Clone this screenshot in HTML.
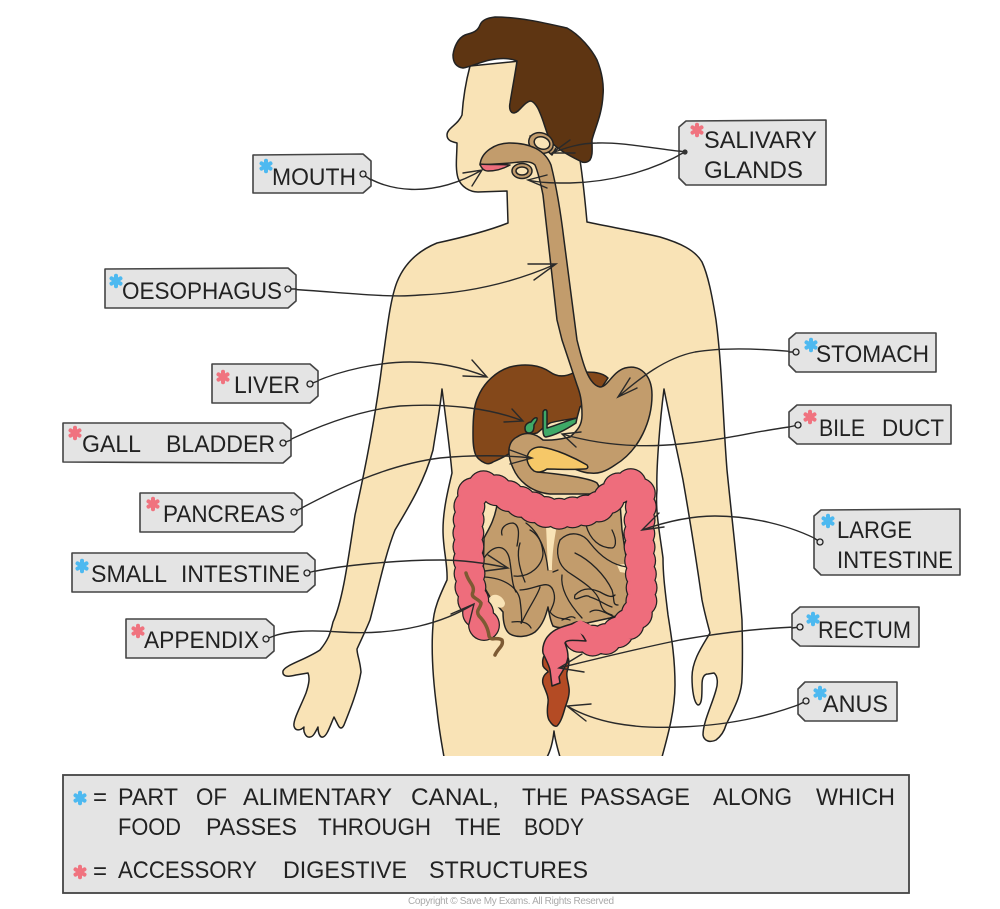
<!DOCTYPE html>
<html><head><meta charset="utf-8"><style>
html,body{margin:0;padding:0;background:#fff}
svg{display:block}
.t{font-family:"Liberation Sans",sans-serif;font-size:24px;fill:#222}
.o{stroke:#222;stroke-width:1.5;stroke-linejoin:round;stroke-linecap:round}
.c{stroke:#2a2a2a;stroke-width:1.4;fill:none;stroke-linecap:round}
.g{fill:#e4e4e4;stroke:#444;stroke-width:1.6;stroke-linejoin:round}
.h{fill:#e4e4e4;stroke:#222;stroke-width:1.3}
.i{stroke:#222;stroke-width:1.3;fill:none;stroke-linecap:round}
</style></head><body>
<svg width="1000" height="909" viewBox="0 0 1000 909" xmlns="http://www.w3.org/2000/svg">
<defs>
<g id="a"><path d="M0,-5.2V5.2M-4.5,-2.6L4.5,2.6M-4.5,2.6L4.5,-2.6" stroke-width="4" stroke-linecap="round" fill="none"/></g>
</defs>

<!-- body -->
<path d="M470,66 C465,85 463,100 462,115 C458,125 447,128 447,135 C447,141 453,142 457,143 C457,155 455,168 458,178 C461,187 470,192 478,192 L507,191 L508,223 C485,232 460,238 437,243 C420,250 405,262 397,282 C390,300 387,330 382,365 C375,420 365,470 355,515 C348,560 343,600 333,622 C330,635 328,640 320,650 C305,660 285,665 283,671 C282,677 288,677 296,675 L308,673 C310,678 309,684 306,693 C300,708 293,720 294,726 C295,731 300,731 304,727 C303,732 306,738 310,737 C313,737 315,733 318,727 C318,733 320,738 323,737 C327,736 330,726 334,717 L338,725 C340,729 342,729 344,725 C350,710 358,690 361,672 C360,660 357,655 357,649 C361,640 366,630 370,620 C378,590 385,555 395,530 C410,505 425,480 433,450 C436,430 440,410 442,389 C446,420 450,450 452,473 C448,490 443,510 443,530 C443,550 448,565 447,580 C440,595 433,610 433,625 C431,650 433,680 437,710 C439,730 442,745 444,757 L547,757 C551,750 553,740 554,731 C555,740 558,750 560,757 L662,757 C668,735 675,710 675,685 C675,660 672,640 668,615 C665,590 663,575 663,558 C660,535 655,510 657,490 C656,470 660,420 664,389 C670,420 677,450 683,480 C690,520 697,565 702,600 C705,615 708,625 710,633 C703,645 692,660 692,677 C692,690 694,703 698,705 C702,705 702,695 702,685 C702,678 704,674 708,674 L714,673 C718,676 718,684 716,690 C712,705 703,722 703,735 C704,741 710,743 716,740 C720,737 724,732 726,725 C733,710 742,695 742,678 C743,650 742,625 742,620 C738,570 732,520 727,470 C723,420 722,365 716,320 C712,295 708,275 702,262 C695,250 680,243 660,237 C635,231 610,227 587,222 C585,200 583,180 580,160 L530,60 Z" fill="#f9e3b6" class="o"/>
<rect x="430" y="756" width="245" height="3" fill="#fff"/>

<!-- hair -->
<path d="M480,25 C482,20 487,18 495,17 C520,17 545,23 567,28 C580,35 592,50 597,60 C602,72 604,85 603,95 C602,115 595,128 592,140 C592,150 593,155 590,160 C587,163 583,163 580,161 C568,155 555,148 550,140 C546,132 544,122 540,113 C537,105 533,101 530,101 C523,103 520,112 514,113 C510,113 509,108 510,103 C512,90 515,75 517,61 C510,58 500,58 490,60 C480,62 470,67 463,68 C456,67 453,62 453,55 C454,47 458,38 465,35 C470,33 477,33 480,25 Z" fill="#5e3512" class="o"/>

<!-- liver -->
<path d="M473,433 C473,417 474,405 478,397 C484,382 497,371 510,367 C525,363 540,365 550,372 C557,377 565,377 573,373 L583,372 C592,372 602,372 608,378 L600,390 L580,407 L577,418 C565,420 556,421 550,423 C545,426 541,430 537,433 L517,437 L510,453 C503,458 497,460 493,462 C490,464 487,464 485,463 C480,461 476,457 475,453 C473,447 473,440 473,433Z" fill="#84481a" class="o"/>
<!-- gland rings -->
<path d="M530,136 L552,155 L556,148" fill="#c29c6c" class="o"/>
<ellipse cx="541" cy="143" rx="12.5" ry="10" fill="#c29c6c" class="o" transform="rotate(20 541 143)"/>
<ellipse cx="542" cy="143" rx="8" ry="6" fill="#f9e3b6" class="o" transform="rotate(20 542 143)"/>
<!-- small intestine -->
<path d="M497,505 L620,503 L622,530 L634,610 L610,618 L578,625 C570,628 560,629 553,626 C550,620 549,612 548,607 C546,615 543,625 535,632 C528,637 517,638 510,634 C504,630 503,620 503,612 L490,597 L483,585 L484,538 C488,530 494,522 497,505 Z" fill="#c29c6c" class="o"/>
<path d="M490,597 C495,592 503,596 505,603 C505,608 500,609 496,606 C492,604 490,600 490,597Z" fill="#f9e3b6" stroke="none"/>
<path d="M546,525 L557,525 C553,545 552,560 552,570 L548,570 Z" fill="#f9e3b6" stroke="none"/>
<path d="M617,565 L630,563 L632,574 L620,572Z" fill="#f9e3b6" stroke="none"/>
<g class="i">
<path d="M502,535 C500,528 506,523 513,523 C520,525 519,535 517,546"/>
<path d="M484,558 C495,542 508,545 510,562 C512,575 512,585 516,592"/>
<path d="M514,576 C530,578 543,565 543,553 C542,538 533,528 526,523"/>
<path d="M520,543 C516,555 520,570 525,582"/>
<path d="M530,530 C540,535 546,550 548,570"/>
<path d="M484,577 C505,578 518,588 520,600 C522,615 522,625 521,623"/>
<path d="M520,590 C535,590 548,578 553,590 C557,600 552,607 550,612 C556,620 565,618 570,620"/>
<path d="M522,622 C530,605 538,595 540,587"/>
<path d="M512,622 C520,621 528,622 531,628"/>
<path d="M558,570 L553,572"/>
<path d="M560,540 C570,530 583,533 590,543 C600,556 612,565 627,567"/>
<path d="M560,540 C555,552 558,565 568,572 C580,580 597,590 600,602 C602,610 605,613 612,615"/>
<path d="M575,553 C590,560 605,575 612,590 C615,600 612,605 618,605"/>
<path d="M586,525 C590,540 600,548 612,548 C615,548 618,542 612,530"/>
<path d="M562,575 C560,590 570,605 582,618"/>
<path d="M575,595 C585,585 595,590 600,592 C607,596 612,598 615,595"/>
<path d="M575,595 C572,605 585,592 590,597 C600,600 605,605 612,607"/>
<path d="M590,612 C597,607 605,613 615,617"/>
<path d="M562,620 C567,618 572,615 575,618"/>
</g>

<!-- digestive tube / stomach -->
<path d="M480,165 C481,152 495,143 510,143 C530,143 545,150 551,165 C556,185 561,215 564,240 L577,340 C582,360 588,385 600,387 C608,387 612,372 625,368 C640,364 652,375 652,395 C652,420 640,450 615,465 C605,472 598,474 590,473 C583,473 578,470 572,468 L535,466 L537,472 C560,474 590,478 597,483 C601,488 597,493 590,494 L550,494 C530,492 518,480 513,468 C507,455 507,442 517,437 C525,431 535,433 543,440 C555,441 565,438 570,437 C578,430 582,425 582,415 C582,400 580,393 577,385 L562,340 L557,320 L543,195 C540,180 538,172 535,165 C530,160 520,162 510,163 L480,165Z" fill="#c29c6c" class="o"/>
<!-- mouth -->
<path d="M480,164 C490,165 500,164 510,165 C503,169 495,171 488,171 C484,171 481,168 480,164Z" fill="#ee6d7c" class="o"/>
<ellipse cx="522" cy="171" rx="10" ry="7.5" fill="#c29c6c" class="o"/>
<ellipse cx="522" cy="171" rx="6" ry="4" fill="#f9e3b6" class="o"/>

<!-- green -->
<path d="M525,428 C525,424 529,422 531,422 C533,419 535,417 537,418 C538,420 535,423 534,425 C534,430 533,433 529,433 C526,433 525,431 525,428Z" fill="#3fa967" class="o"/>
<path d="M543,412 C544,409 547,409 547,412 L547,428 C555,426 568,420 577,418 L576,423 C567,429 556,435 546,437 C544,437 543,434 543,430Z" fill="#3fa967" class="o"/>
<!-- pancreas -->
<path d="M527,458 C528,450 534,447 541,447 C556,449 575,458 587,465 C589,468 587,469 584,469 C570,470 558,469 547,469 C543,472 538,473 534,471 C530,468 527,463 527,458Z" fill="#f6c868" class="o"/>

<!-- anus -->
<path d="M547,653 C543,655 542,661 543,666 C545,670 548,670 548,672 C543,675 542,680 543,684 C546,692 549,697 548,703 C547,710 547,716 549,720 C552,725 555,727 557,726 C561,722 563,715 565,708 C567,702 570,695 569,688 C568,680 566,677 567,672 C569,665 570,660 567,656 Z" fill="#b44b24" class="o"/>

<!-- large intestine -->
<g fill="none" stroke-linecap="round" stroke-linejoin="round">
<path d="M484,625 C476,610 470,595 470,580 C468,555 468,530 469,510 C470,495 475,487 482,486 C495,488 505,495 523,503 C540,510 550,516 565,513 C580,512 595,510 605,503 C612,495 620,483 630,484 C640,486 643,498 640,512 C638,540 641,570 642,597 C640,615 630,625 615,634 C605,642 590,643 578,636" stroke="#222" stroke-width="32" stroke-dasharray="0 13.5"/>
<path d="M484,625 C476,610 470,595 470,580 C468,555 468,530 469,510 C470,495 475,487 482,486 C495,488 505,495 523,503 C540,510 550,516 565,513 C580,512 595,510 605,503 C612,495 620,483 630,484 C640,486 643,498 640,512 C638,540 641,570 642,597 C640,615 630,625 615,634 C605,642 590,643 578,636" stroke="#ee6d7c" stroke-width="29.5" stroke-dasharray="0 13.5"/>
<path d="M484,625 C476,610 470,595 470,580 C468,555 468,530 469,510 C470,495 475,487 482,486 C495,488 505,495 523,503 C540,510 550,516 565,513 C580,512 595,510 605,503 C612,495 620,483 630,484 C640,486 643,498 640,512 C638,540 641,570 642,597 C640,615 630,625 615,634 C605,642 590,643 578,636" stroke="#ee6d7c" stroke-width="22"/>
</g>
<path d="M575,623 C565,626 555,628 549,635 C544,640 542,648 543,653 C546,660 549,665 550,670 L552,686 L560,683 L559,677 C562,672 567,665 568,657 C568,650 566,646 565,643 C566,640 570,640 586,641 Z" fill="#ee6d7c" class="o"/>
<path d="M570,626 L590,640 L600,630 L580,620Z" fill="#ee6d7c"/>
<!-- appendix -->
<path d="M466,573 C468,582 475,585 473,592 C470,598 478,598 481,603 C481,608 475,610 479,616 C484,621 488,627 489,636 C491,642 497,636 502,640 C504,646 498,648 495,655" fill="none" stroke="#7d5a33" stroke-width="3.5" stroke-linecap="round"/>

<!-- connectors -->
<g class="c">
<path d="M364,175 C385,190 430,200 482,170 M463,173 L482,170 L472,186"/>
<path d="M685,152 C650,148 620,142 597,143 C580,143 565,148 552,153 M570,140 L552,153 L575,153"/>
<path d="M685,152 C650,172 610,182 570,183 C555,183 540,183 528,180 M547,175 L528,180 L547,188"/>
<path d="M288,289 C350,293 390,298 420,295 C470,293 515,282 556,264 M528,264 L556,264 L534,280"/>
<path d="M310,384 C340,370 380,362 410,362 C440,362 465,368 487,377 M472,360 L487,377 L463,376"/>
<path d="M283,443 C320,425 360,410 400,406 C445,403 490,408 523,421 M512,409 L523,421 L504,422"/>
<path d="M294,512 C335,490 385,465 440,458 C470,455 505,455 532,458 M510,450 L532,458 L510,464"/>
<path d="M307,573 C340,565 400,560 440,560 C465,560 490,564 508,568 M488,555 L508,568 L485,571"/>
<path d="M266,639 C285,630 310,630 340,632 C400,636 445,622 474,604 M451,614 L474,604 L469,624"/>
<path d="M797,352 C765,349 725,347 695,352 C665,358 640,378 618,397 M630,378 L618,397 L637,388"/>
<path d="M797,426 C760,430 725,440 680,444 C640,448 600,445 562,434 M581,432 L562,434 L576,447"/>
<path d="M820,541 C790,525 750,516 715,516 C690,516 665,522 642,530 M659,513 L642,530 L664,527"/>
<path d="M799,627 C760,628 720,633 680,640 C640,648 600,658 559,668 M582,654 L559,668 L584,672"/>
<path d="M806,702 C780,712 740,725 680,727 C630,729 595,722 567,706 M591,704 L567,706 L586,721"/>
</g>

<!-- tags -->
<path class="g" d="M253,155 L363,154 L371,161 L371,186 L363,193 L253,193Z"/>
<path class="g" d="M686,121 L826,120 L826,185 L686,185 L679,178 L679,127Z"/>
<path class="g" d="M105,269 L288,268 L296,275 L296,301 L288,308 L105,308Z"/>
<path class="g" d="M212,364 L310,364 L318,371 L318,396 L310,403 L212,403Z"/>
<path class="g" d="M63,423 L283,423 L291,430 L291,456 L283,463 L63,462Z"/>
<path class="g" d="M140,493 L294,493 L302,500 L302,525 L294,532 L140,532Z"/>
<path class="g" d="M72,553 L307,553 L315,560 L315,585 L307,592 L72,592Z"/>
<path class="g" d="M126,619 L266,619 L274,626 L274,651 L266,658 L126,658Z"/>
<path class="g" d="M796,333 L936,333 L936,372 L796,372 L789,365 L789,339Z"/>
<path class="g" d="M797,405 L951,405 L951,444 L797,444 L789,437 L789,412Z"/>
<path class="g" d="M821,510 L960,509 L960,575 L821,575 L814,568 L814,516Z"/>
<path class="g" d="M800,607 L919,607 L919,647 L800,646 L792,639 L792,614Z"/>
<path class="g" d="M805,682 L897,682 L897,721 L805,721 L798,714 L798,689Z"/>
<rect x="63" y="775" width="846" height="118" fill="#e4e4e4" stroke="#444" stroke-width="1.8"/>

<!-- connector tails over tags -->
<g class="c">
<path d="M364,175 L371,180"/><path d="M679,151 L685,152 M679,155 L685,152"/>
<path d="M288,289 L296,289"/><path d="M310,384 L318,381"/><path d="M283,443 L291,440"/>
<path d="M294,512 L302,508"/><path d="M307,573 L315,571"/><path d="M266,639 L274,636"/>
<path d="M789,352 L796,352"/><path d="M789,427 L798,425"/><path d="M814,538 L820,542"/>
<path d="M792,628 L800,627"/><path d="M798,705 L806,701"/>
</g>
<!-- holes -->
<circle class="h" cx="363" cy="174" r="3"/><circle cx="685" cy="152" r="2.6" fill="#333"/>
<circle class="h" cx="288" cy="289" r="3"/><circle class="h" cx="310" cy="384" r="3"/>
<circle class="h" cx="283" cy="443" r="3"/><circle class="h" cx="294" cy="512" r="3"/>
<circle class="h" cx="307" cy="573" r="3"/><circle class="h" cx="266" cy="639" r="3"/>
<circle class="h" cx="796" cy="352" r="3"/><circle class="h" cx="798" cy="425" r="3"/>
<circle class="h" cx="820" cy="542" r="3"/><circle class="h" cx="800" cy="627" r="3"/>
<circle class="h" cx="806" cy="701" r="3"/>

<!-- asterisks -->
<g fill="none" stroke="#4db9f0">
<use href="#a" x="266" y="166"/><use href="#a" x="116" y="281"/><use href="#a" x="82" y="566"/>
<use href="#a" x="811" y="345"/><use href="#a" x="828" y="521"/><use href="#a" x="813" y="619"/>
<use href="#a" x="820" y="693"/><use href="#a" x="80" y="798"/>
</g>
<g fill="none" stroke="#f0737f">
<use href="#a" x="697" y="130"/><use href="#a" x="223" y="377"/><use href="#a" x="75" y="433"/>
<use href="#a" x="153" y="504"/><use href="#a" x="138" y="631"/><use href="#a" x="810" y="417"/>
<use href="#a" x="80" y="872"/>
</g>

<!-- label text -->
<g class="t">
<text x="272" y="185" textLength="84" lengthAdjust="spacingAndGlyphs">MOUTH</text>
<text x="704" y="148" textLength="113" lengthAdjust="spacingAndGlyphs">SALIVARY</text>
<text x="704" y="178" textLength="99" lengthAdjust="spacingAndGlyphs">GLANDS</text>
<text x="122" y="299" textLength="160" lengthAdjust="spacingAndGlyphs">OESOPHAGUS</text>
<text x="234" y="393" textLength="66" lengthAdjust="spacingAndGlyphs">LIVER</text>
<text x="82" y="452" textLength="59" lengthAdjust="spacingAndGlyphs">GALL</text><text x="166" y="452" textLength="109" lengthAdjust="spacingAndGlyphs">BLADDER</text>
<text x="163" y="522" textLength="122" lengthAdjust="spacingAndGlyphs">PANCREAS</text>
<text x="91" y="582" textLength="76" lengthAdjust="spacingAndGlyphs">SMALL</text><text x="181" y="582" textLength="119" lengthAdjust="spacingAndGlyphs">INTESTINE</text>
<text x="144" y="648" textLength="115" lengthAdjust="spacingAndGlyphs">APPENDIX</text>
<text x="816" y="362" textLength="113" lengthAdjust="spacingAndGlyphs">STOMACH</text>
<text x="819" y="436" textLength="46" lengthAdjust="spacingAndGlyphs">BILE</text><text x="882" y="436" textLength="62" lengthAdjust="spacingAndGlyphs">DUCT</text>
<text x="837" y="538" textLength="75" lengthAdjust="spacingAndGlyphs">LARGE</text>
<text x="837" y="568" textLength="116" lengthAdjust="spacingAndGlyphs">INTESTINE</text>
<text x="818" y="638" textLength="93" lengthAdjust="spacingAndGlyphs">RECTUM</text>
<text x="823" y="712" textLength="65" lengthAdjust="spacingAndGlyphs">ANUS</text>
</g>

<!-- legend text -->
<g class="t">
<text x="93" y="805" textLength="15">=</text>
<text x="93" y="879" textLength="15">=</text>
<text x="118" y="805" textLength="60" lengthAdjust="spacingAndGlyphs">PART</text>
<text x="196" y="805" textLength="31" lengthAdjust="spacingAndGlyphs">OF</text>
<text x="243" y="805" textLength="149" lengthAdjust="spacingAndGlyphs">ALIMENTARY</text>
<text x="411" y="805" textLength="88" lengthAdjust="spacingAndGlyphs">CANAL,</text>
<text x="522" y="805" textLength="46" lengthAdjust="spacingAndGlyphs">THE</text>
<text x="580" y="805" textLength="110" lengthAdjust="spacingAndGlyphs">PASSAGE</text>
<text x="713" y="805" textLength="79" lengthAdjust="spacingAndGlyphs">ALONG</text>
<text x="816" y="805" textLength="79" lengthAdjust="spacingAndGlyphs">WHICH</text>
<text x="118" y="835" textLength="63" lengthAdjust="spacingAndGlyphs">FOOD</text>
<text x="206" y="835" textLength="91" lengthAdjust="spacingAndGlyphs">PASSES</text>
<text x="318" y="835" textLength="113" lengthAdjust="spacingAndGlyphs">THROUGH</text>
<text x="455" y="835" textLength="46" lengthAdjust="spacingAndGlyphs">THE</text>
<text x="524" y="835" textLength="60" lengthAdjust="spacingAndGlyphs">BODY</text>
<text x="118" y="878" textLength="139" lengthAdjust="spacingAndGlyphs">ACCESSORY</text>
<text x="283" y="878" textLength="124" lengthAdjust="spacingAndGlyphs">DIGESTIVE</text>
<text x="429" y="878" textLength="159" lengthAdjust="spacingAndGlyphs">STRUCTURES</text>
</g>
<text x="408" y="904" textLength="206" style="font-family:'Liberation Sans',sans-serif;font-size:10px;fill:#aaa">Copyright © Save My Exams. All Rights Reserved</text>
</svg>
</body></html>
